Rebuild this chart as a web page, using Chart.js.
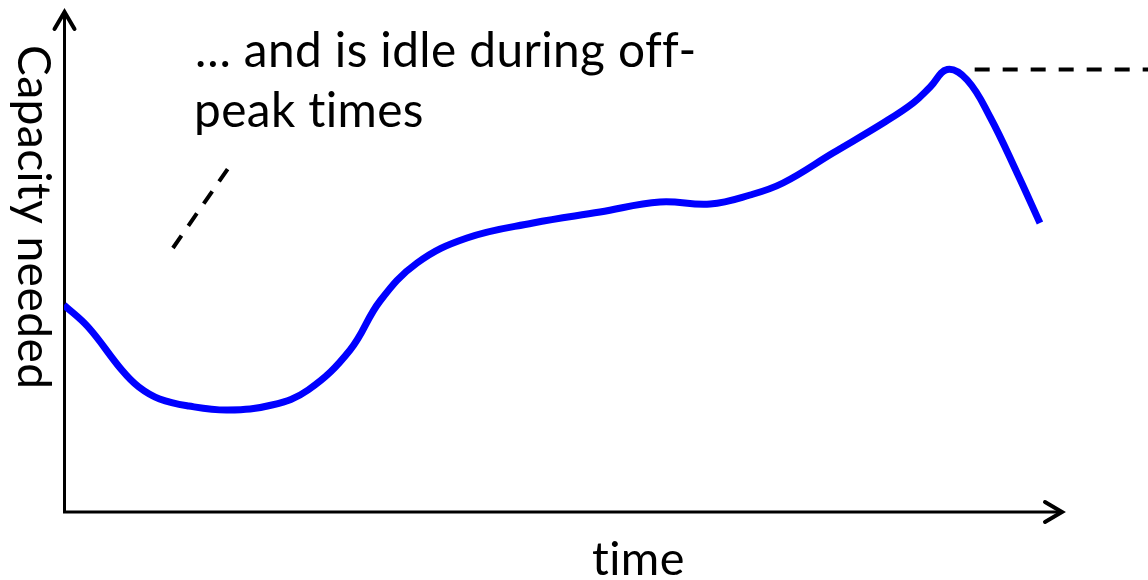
<!DOCTYPE html>
<html>
<head>
<meta charset="utf-8">
<title>Capacity needed over time</title>
<script src="https://cdn.jsdelivr.net/npm/chart.js@4.4.0/dist/chart.umd.min.js"></script>
<style>
    body { margin: 0; background: #fff; }
    canvas { display: block; }
</style>
</head>
<body>
<canvas id="capacityChart" width="1148" height="580"></canvas>
<script>
// Demand curve (hours of the day vs. capacity needed, arbitrary units)
const timeHours = [0, 0.58, 1.39, 1.8, 2.3, 3.0, 3.94, 5.0, 5.87, 6.88, 7.6, 8.49, 9.69, 11.28, 12.89,
    14.33, 15.54, 16.5, 17.29, 18.49, 19.7, 20.42, 20.83, 21.24, 21.72, 22.27, 22.92, 23.47];
const capacityNeeded = [41.4, 37, 28.4, 25, 22.6, 21.2, 20.4, 21.4, 24.4, 32.4, 42.2, 49.8, 54.8, 57.8, 60,
    62, 61.6, 63.4, 65.8, 71.8, 77.8, 81.8, 85, 88.5, 86.4, 79, 67.8, 57.8];

// Peak capacity marker (dashed, runs off to the right edge)
const peakLineX = [21.9, 26.07];
const peakLineY = [88.5, 88.5];

// Pointer from the annotation down towards the trough
const pointerX = [2.62, 3.97];
const pointerY = [52.8, 69];

// Texts
const annotationLines = ['\u2026 and is idle during off-', 'peak times'];
const xAxisTitle = 'time';
const yAxisTitle = 'Capacity needed';

const FONT = 'Lato, "Open Sans", sans-serif';

function toPoints(xs, ys) {
    return xs.map(function (x, i) { return { x: x, y: ys[i] }; });
}

// font size so that the ink width of text equals width
function fitSize(ctx, text, width) {
    ctx.font = '100px ' + FONT;
    const m = ctx.measureText(text);
    return 100 * width / (m.actualBoundingBoxLeft + m.actualBoundingBoxRight);
}

function drawInk(ctx, text, inkLeft, baseline, size) {
    ctx.font = size + 'px ' + FONT;
    const m = ctx.measureText(text);
    ctx.fillText(text, inkLeft + m.actualBoundingBoxLeft, baseline);
}

const axesPlugin = {
    id: 'arrowAxes',
    beforeDatasetsDraw: function (chart) {
        const ctx = chart.ctx;
        const a = chart.chartArea;
        ctx.save();
        ctx.strokeStyle = '#000';
        ctx.lineWidth = 3;
        ctx.lineCap = 'butt';
        ctx.beginPath();
        ctx.moveTo(a.left + 0.5, a.top + 2);
        ctx.lineTo(a.left + 0.5, a.bottom);
        ctx.lineTo(a.right - 2, a.bottom);
        ctx.stroke();

        // arrow heads
        ctx.lineWidth = 4;
        ctx.lineCap = 'round';
        ctx.lineJoin = 'miter';
        ctx.beginPath();
        ctx.moveTo(a.left - 9.5, a.top + 17);
        ctx.lineTo(a.left + 0.5, a.top);
        ctx.lineTo(a.left + 10.5, a.top + 17);
        ctx.moveTo(a.right - 17, a.bottom - 10);
        ctx.lineTo(a.right, a.bottom);
        ctx.lineTo(a.right - 17, a.bottom + 10);
        ctx.stroke();
        ctx.restore();
    },
    afterDraw: function (chart) {
        const ctx = chart.ctx;
        ctx.save();
        ctx.fillStyle = '#000';
        ctx.textAlign = 'left';
        ctx.textBaseline = 'alphabetic';
        // non-zero spacing keeps "ti" from turning into a ligature
        ctx.letterSpacing = '0.4px';

        const noteSize = fitSize(ctx, annotationLines[0], 491);
        drawInk(ctx, annotationLines[0], 197, 67, noteSize);
        drawInk(ctx, annotationLines[1], 197, 127, noteSize);

        drawInk(ctx, xAxisTitle, 593, 575, fitSize(ctx, xAxisTitle, 89));

        const ySize = fitSize(ctx, yAxisTitle, 336);
        ctx.translate(18, 0);
        ctx.rotate(Math.PI / 2);
        drawInk(ctx, yAxisTitle, 47, 0, ySize);
        ctx.restore();
    }
};

const chart = new Chart(document.getElementById('capacityChart'), {
    type: 'line',
    data: {
        datasets: [{
            label: 'Capacity needed',
            data: toPoints(timeHours, capacityNeeded),
            borderColor: '#0000ff',
            borderWidth: 7,
            pointRadius: 0,
            tension: 0.4,
            fill: false
        }, {
            label: 'Peak',
            data: toPoints(peakLineX, peakLineY),
            borderColor: '#000',
            borderWidth: 4,
            borderDash: [15, 13],
            pointRadius: 0,
            clip: false
        }, {
            label: 'Pointer',
            data: toPoints(pointerX, pointerY),
            borderColor: '#000',
            borderWidth: 4,
            borderDash: [15, 12],
            pointRadius: 0
        }]
    },
    options: {
        responsive: false,
        animation: false,
        devicePixelRatio: 1,
        layout: { padding: { left: 64, right: 86, top: 12, bottom: 68 } },
        plugins: {
            legend: { display: false },
            tooltip: { enabled: false }
        },
        scales: {
            x: { type: 'linear', min: 0, max: 24, display: false },
            y: { min: 0, max: 100, display: false }
        }
    },
    plugins: [axesPlugin]
});
</script>
</body>
</html>
